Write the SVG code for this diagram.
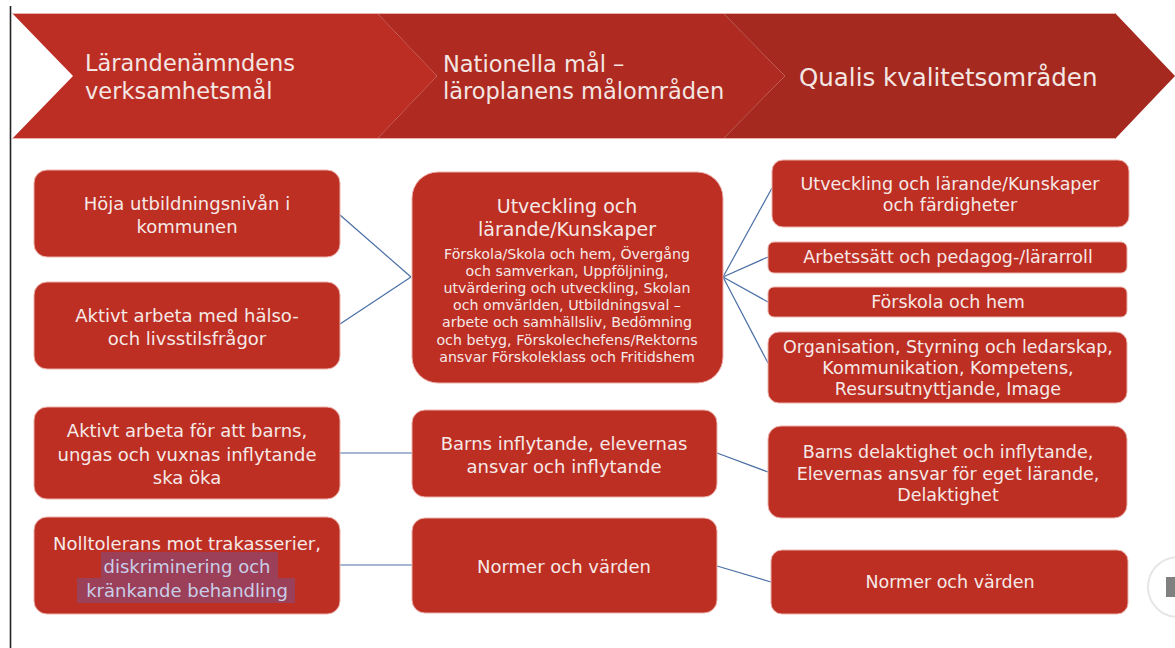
<svg xmlns="http://www.w3.org/2000/svg" width="1175" height="648" viewBox="0 0 1175 648">
<style>
.hd{font-family:"DejaVu Sans","Liberation Sans",sans-serif;fill:#F3E6E3;font-size:22.5px}
.nb{fill:#BD2E23;stroke:#EBB3AC;stroke-width:1}
.nt{font-family:"DejaVu Sans","Liberation Sans",sans-serif;fill:#F5E9E7;font-size:18px;text-anchor:middle}
.st{font-family:"DejaVu Sans","Liberation Sans",sans-serif;fill:#F5E9E7;font-size:14.2px;text-anchor:middle}
.rt{font-family:"DejaVu Sans","Liberation Sans",sans-serif;fill:#F5E9E7;font-size:17.5px;text-anchor:middle}
.cn line{stroke:#4A6FA5;stroke-width:1.2}
</style>
<rect width="1175" height="648" fill="#FFFFFF"/>
<line x1="10.5" y1="6" x2="10.5" y2="648" stroke="#222" stroke-width="1.6"/>
<g id="header">
<polygon points="12,13 377,13 437,76 377,139 12,139 73,76" fill="#BC2E23"/>
<polygon points="377,13 723,13 785,76 723,139 377,139 437,76" fill="#AF2A21"/>
<polygon points="723,13 1115,13 1175,76 1115,139 723,139 785,76" fill="#A5291F"/>
<line x1="12" y1="13.5" x2="1115" y2="13.5" stroke="#E7B5AE" stroke-width="1"/>
<line x1="12" y1="138.5" x2="1115" y2="138.5" stroke="#E7B5AE" stroke-width="1"/>
<text class="hd" x="85" y="71">Lärandenämndens</text>
<text class="hd" x="85" y="99">verksamhetsmål</text>
<text class="hd" x="443" y="72">Nationella mål –</text>
<text class="hd" x="443" y="99">läroplanens målområden</text>
<text class="hd" x="799" y="86" style="font-size:24.5px">Qualis kvalitetsområden</text>
</g>
<g id="connectors" class="cn">
<line x1="340" y1="215" x2="411" y2="277"/>
<line x1="340" y1="324" x2="411" y2="277"/>
<line x1="723" y1="277" x2="772" y2="188"/>
<line x1="723" y1="277" x2="768" y2="257"/>
<line x1="723" y1="277" x2="768" y2="302"/>
<line x1="723" y1="277" x2="768" y2="363"/>
<line x1="340" y1="453" x2="412" y2="453"/>
<line x1="340" y1="565" x2="412" y2="565"/>
<line x1="717" y1="453" x2="768" y2="472"/>
<line x1="717" y1="566" x2="771" y2="582"/>
</g>
<g id="l1"><rect class="nb" x="34" y="170" width="306" height="87" rx="13"/>
<text class="nt" x="187" y="210">Höja utbildningsnivån i</text>
<text class="nt" x="187" y="233">kommunen</text></g>
<g id="l2"><rect class="nb" x="34" y="282" width="306" height="87" rx="13"/>
<text class="nt" x="187" y="322">Aktivt arbeta med hälso-</text>
<text class="nt" x="187" y="345">och livsstilsfrågor</text></g>
<g id="l3"><rect class="nb" x="34" y="407" width="306" height="92" rx="13"/>
<text class="nt" x="187" y="437">Aktivt arbeta för att barns,</text>
<text class="nt" x="187" y="461">ungas och vuxnas inflytande</text>
<text class="nt" x="187" y="484">ska öka</text></g>
<g id="l4"><rect class="nb" x="34" y="517" width="306" height="97" rx="13"/>
<rect x="101" y="552" width="177" height="26" fill="#9C3F58"/>
<rect x="77" y="578" width="218" height="25" fill="#9C3F58"/>
<text class="nt" x="187" y="550">Nolltolerans mot trakasserier,</text>
<text class="nt" x="187" y="573" style="fill:#C9CEE8">diskriminering och</text>
<text class="nt" x="187" y="597" style="fill:#C9CEE8">kränkande behandling</text></g>
<g id="c1"><rect class="nb" x="412" y="172" width="311" height="211" rx="26"/>
<text class="nt" x="567" y="213" style="font-size:19px">Utveckling och</text>
<text class="nt" x="567" y="236" style="font-size:19px">lärande/Kunskaper</text>
<text class="st" x="567" y="259">Förskola/Skola och hem, Övergång</text>
<text class="st" x="567" y="276">och samverkan, Uppföljning,</text>
<text class="st" x="567" y="293">utvärdering och utveckling, Skolan</text>
<text class="st" x="567" y="310">och omvärlden, Utbildningsval –</text>
<text class="st" x="567" y="327">arbete och samhällsliv, Bedömning</text>
<text class="st" x="567" y="345">och betyg, Förskolechefens/Rektorns</text>
<text class="st" x="567" y="362">ansvar Förskoleklass och Fritidshem</text></g>
<g id="c2"><rect class="nb" x="412" y="410" width="305" height="87" rx="13"/>
<text class="nt" x="564" y="450">Barns inflytande, elevernas</text>
<text class="nt" x="564" y="473">ansvar och inflytande</text></g>
<g id="c3"><rect class="nb" x="412" y="518" width="305" height="95" rx="13"/>
<text class="nt" x="564" y="573">Normer och värden</text></g>
<g id="r1"><rect class="nb" x="772" y="160" width="357" height="67" rx="11"/>
<text class="rt" x="950" y="190">Utveckling och lärande/Kunskaper</text>
<text class="rt" x="950" y="211">och färdigheter</text></g>
<g id="r2"><rect class="nb" x="768" y="242" width="359" height="31" rx="6"/>
<text class="rt" x="948" y="263">Arbetssätt och pedagog-/lärarroll</text></g>
<g id="r3"><rect class="nb" x="768" y="287" width="359" height="30" rx="6"/>
<text class="rt" x="948" y="308">Förskola och hem</text></g>
<g id="r4"><rect class="nb" x="768" y="332" width="359" height="71" rx="11"/>
<text class="rt" x="948" y="353">Organisation, Styrning och ledarskap,</text>
<text class="rt" x="948" y="374">Kommunikation, Kompetens,</text>
<text class="rt" x="948" y="395">Resursutnyttjande, Image</text></g>
<g id="r5"><rect class="nb" x="768" y="426" width="359" height="92" rx="13"/>
<text class="rt" x="948" y="458">Barns delaktighet och inflytande,</text>
<text class="rt" x="948" y="480">Elevernas ansvar för eget lärande,</text>
<text class="rt" x="948" y="501">Delaktighet</text></g>
<g id="r6"><rect class="nb" x="771" y="550" width="357" height="64" rx="11"/>
<text class="rt" x="950" y="588">Normer och värden</text></g>
<g id="navbutton">
<circle cx="1178" cy="587" r="30" fill="#FFFFFF" stroke="#E6E6E6" stroke-width="2"/>
<rect x="1166" y="577" width="9" height="20" fill="#808080"/>
</g>
</svg>
